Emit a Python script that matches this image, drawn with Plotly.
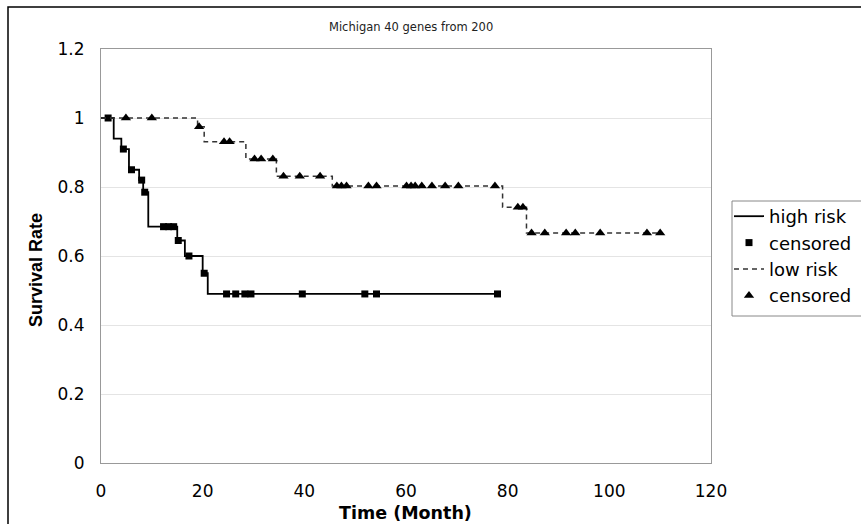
import plotly.graph_objects as go

# ---- data ----
high_step_t = [0, 2.5, 4.0, 5.5, 7.5, 8.3, 9.3, 15.0, 16.5, 20.0, 21.0]
high_step_s = [1.0, 0.94, 0.91, 0.85, 0.82, 0.785, 0.685, 0.645, 0.60, 0.55, 0.49]
high_end = 78.0
high_cens_t = [1.4, 4.4, 6.0, 8.0, 8.6, 12.3, 13.3, 14.3, 15.2, 17.3, 20.3,
               24.7, 26.5, 28.3, 29.5, 39.6, 51.9, 54.2, 78.0]

low_step_t = [0, 19.0, 20.3, 28.5, 34.5, 45.5, 79.0, 83.7]
low_step_s = [1.0, 0.975, 0.931, 0.881, 0.831, 0.803, 0.741, 0.667]
low_end = 110.5
low_cens_t = [4.9, 10.0, 19.3, 24.2, 25.3, 30.2, 31.5, 33.8, 35.9, 39.1, 43.1,
              46.4, 47.3, 48.3, 52.6, 54.2, 60.1, 61.0, 61.8, 63.1, 65.1, 67.7,
              70.3, 77.5, 82.0, 83.0, 84.7, 87.3, 91.5, 93.3, 98.2, 107.4, 110.0]

x_ticks = [0, 20, 40, 60, 80, 100, 120]
y_ticks = [0, 0.2, 0.4, 0.6, 0.8, 1.0, 1.2]
y_tick_text = ["0", "0.2", "0.4", "0.6", "0.8", "1", "1.2"]

title_text = "Michigan 40 genes from 200"
x_title = "Time (Month)"
y_title = "Survival Rate"


def surv_at(t, steps_t, steps_s):
    val = steps_s[0]
    for st, ss in zip(steps_t, steps_s):
        if st <= t:
            val = ss
    return val


high_cens_s = [surv_at(t, high_step_t, high_step_s) for t in high_cens_t]
low_cens_s = [surv_at(t, low_step_t, low_step_s) for t in low_cens_t]

fig = go.Figure()
fig.add_trace(go.Scatter(
    x=high_step_t + [high_end], y=high_step_s + [high_step_s[-1]],
    mode="lines", line=dict(color="black", width=1.8, shape="hv"),
    name="high risk"))
fig.add_trace(go.Scatter(
    x=high_cens_t, y=high_cens_s, mode="markers",
    marker=dict(symbol="square", size=7, color="black"),
    name="censored"))
fig.add_trace(go.Scatter(
    x=low_step_t + [low_end], y=low_step_s + [low_step_s[-1]],
    mode="lines", line=dict(color="#333333", width=1.5, shape="hv", dash="5px,4px"),
    name="low risk"))
fig.add_trace(go.Scatter(
    x=low_cens_t, y=low_cens_s, mode="markers",
    marker=dict(symbol="triangle-up", size=9, color="black"),
    name="censored"))

L, R, T, B = 101, 711, 49, 463
W, H = 861, 524
pw, ph = R - L, B - T

def px(x):
    return (x - L) / pw

def py(y):
    return (B - y) / ph

fig.update_layout(
    width=W, height=H,
    margin=dict(l=L, r=W - R, t=T, b=H - B, autoexpand=False),
    paper_bgcolor="white", plot_bgcolor="white",
    font=dict(family="DejaVu Sans", color="black"),
    showlegend=True,
    legend=dict(x=px(729), y=py(198), xanchor="left", yanchor="top",
                borderwidth=0, bgcolor="rgba(0,0,0,0)",
                font=dict(family="DejaVu Sans", size=18, color="black"),
                tracegroupgap=0),
    xaxis=dict(range=[0, 120], tickvals=x_ticks, showgrid=False, zeroline=False,
               showline=True, linecolor="#999999", linewidth=1, mirror=True,
               ticks="", ticklabelstandoff=13,
               tickfont=dict(family="DejaVu Sans", size=17, color="black")),
    yaxis=dict(range=[0, 1.2], tickvals=y_ticks, ticktext=y_tick_text,
               showgrid=True, gridcolor="#e4e4e4", gridwidth=1, zeroline=False,
               showline=True, linecolor="#999999", linewidth=1, mirror=True,
               ticks="", ticklabelstandoff=12,
               tickfont=dict(family="DejaVu Sans", size=17, color="black")),
    annotations=[
        dict(text=title_text, x=px(411), y=py(27), xref="paper", yref="paper",
             showarrow=False, xanchor="center", yanchor="middle",
             font=dict(family="DejaVu Sans", size=11.5, color="#222222")),
        dict(text="<b>" + x_title + "</b>", x=px(405), y=py(513), xref="paper", yref="paper",
             showarrow=False, xanchor="center", yanchor="middle",
             font=dict(family="DejaVu Sans", size=17.5, color="black")),
        dict(text="<b>" + y_title + "</b>", x=px(36), y=py(270), xref="paper", yref="paper",
             showarrow=False, xanchor="center", yanchor="middle", textangle=-90,
             font=dict(family="Liberation Sans", size=18, color="black")),
    ],
    shapes=[
        dict(type="rect", xref="paper", yref="paper",
             x0=px(732), x1=px(890), y0=py(316), y1=py(201),
             line=dict(color="#888888", width=1), fillcolor="white", layer="above"),
        dict(type="rect", xref="paper", yref="paper",
             x0=px(8), x1=px(875), y0=py(540), y1=py(7),
             line=dict(color="black", width=1.5), fillcolor="rgba(0,0,0,0)", layer="above"),
    ],
)

fig.write_html("out.html", config={"displayModeBar": False})
